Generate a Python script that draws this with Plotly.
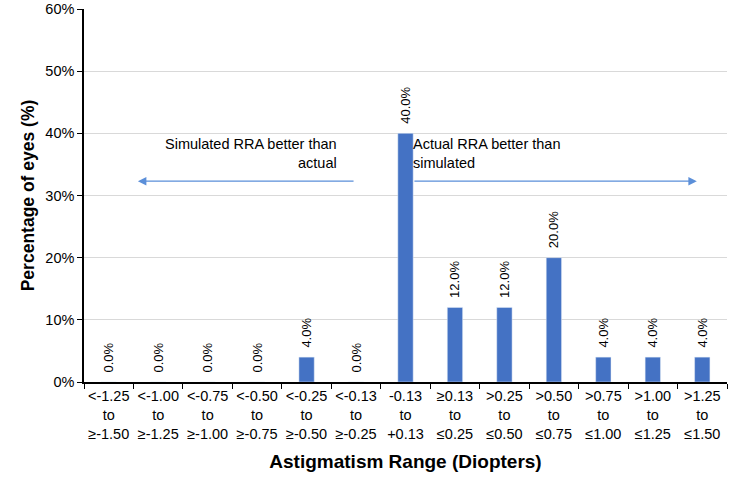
import plotly.graph_objects as go

categories = ["<-1.25<br>to<br>≥-1.50", "<-1.00<br>to<br>≥-1.25", "<-0.75<br>to<br>≥-1.00",
              "<-0.50<br>to<br>≥-0.75", "<-0.25<br>to<br>≥-0.50", "<-0.13<br>to<br>≥-0.25",
              "-0.13<br>to<br>+0.13", "≥0.13<br>to<br>≤0.25", ">0.25<br>to<br>≤0.50",
              ">0.50<br>to<br>≤0.75", ">0.75<br>to<br>≤1.00", ">1.00<br>to<br>≤1.25",
              ">1.25<br>to<br>≤1.50"]
values = [0.0, 0.0, 0.0, 0.0, 4.0, 0.0, 40.0, 12.0, 12.0, 20.0, 4.0, 4.0, 4.0]
labels = [f"\u2002{v:.1f}%" for v in values]

FONT = "Liberation Sans, Arial, sans-serif"
blue = "#4472C4"

fig = go.Figure(go.Bar(
    x=categories, y=values, text=labels, textposition="outside", textangle=-90,
    textfont=dict(size=13, color="#000000", family=FONT), marker_color=blue,
    cliponaxis=False, width=0.31, constraintext="none",
))

arrow_col = "#5B8FD9"
fig.add_annotation(x=0.59, y=32.3, ax=4.98, ay=32.3, xref="x", yref="y", axref="x", ayref="y",
                   showarrow=True, arrowhead=2, arrowsize=1.3, arrowwidth=1.3, arrowcolor=arrow_col, text="")
fig.add_annotation(x=11.89, y=32.3, ax=6.15, ay=32.3, xref="x", yref="y", axref="x", ayref="y",
                   showarrow=True, arrowhead=2, arrowsize=1.3, arrowwidth=1.3, arrowcolor=arrow_col, text="")
fig.add_annotation(x=4.66, y=36.8, xref="x", yref="y", xanchor="right", yanchor="middle", align="right",
                   showarrow=False, text="Simulated RRA better than<br>actual",
                   font=dict(size=14.5, color="#000000", family=FONT))
fig.add_annotation(x=6.11, y=36.8, xref="x", yref="y", xanchor="left", yanchor="middle", align="left",
                   showarrow=False, text="Actual RRA better than<br>simulated",
                   font=dict(size=14.5, color="#000000", family=FONT))

fig.update_layout(
    width=735, height=480, margin=dict(l=84, r=8, t=9, b=98),
    plot_bgcolor="white", paper_bgcolor="white", showlegend=False,
    font=dict(family=FONT, color="#000000"),
    bargap=0.69,
)
fig.update_xaxes(
    type="category", tickson="boundaries", ticks="outside", ticklen=5, tickcolor="#000000",
    showline=True, linecolor="#000000", linewidth=1.5, showgrid=False, automargin=False,
    tickfont=dict(size=14.5, family=FONT, color="#000000"), tickangle=0,
    title=dict(text="<b>Astigmatism Range (Diopters)</b>", font=dict(size=19, family=FONT), standoff=14),
)
fig.update_yaxes(
    range=[0, 60], dtick=10, ticksuffix="%", ticks="outside", ticklen=5, tickcolor="#000000",
    showline=True, linecolor="#000000", linewidth=1.5, gridcolor="#D9D9D9", zeroline=False,
    automargin=False,
    tickfont=dict(size=14.5, family=FONT, color="#000000"),
    title=dict(text="<b>Percentage of eyes (%)</b>", font=dict(size=17.5, family=FONT), standoff=6),
)

fig.write_html("out.html", config={"displayModeBar": False},
               post_script="document.body.style.margin='0';document.body.style.overflow='hidden';")
